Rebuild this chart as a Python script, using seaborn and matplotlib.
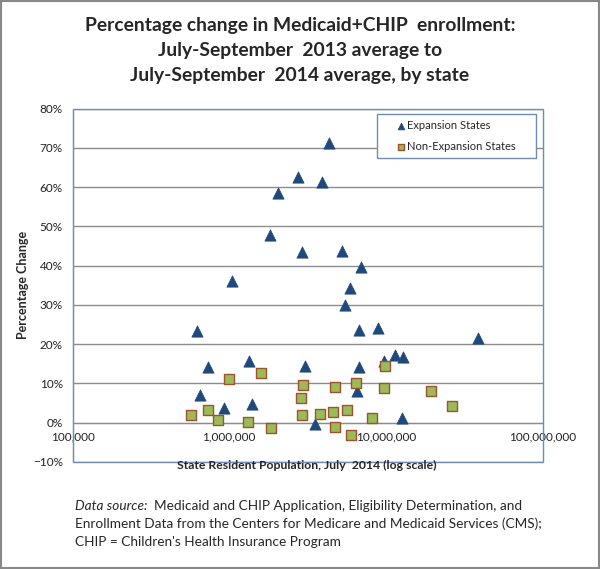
import matplotlib
matplotlib.use("Agg")
import matplotlib.pyplot as plt
import matplotlib.ticker as mticker
from matplotlib.patches import Rectangle
import numpy as np
import pandas as pd
import seaborn as sns

# ── Data ─────────────────────────────────────────────────────────────────────
exp_pop = [4.35e6, 2.76e6, 3.94e6, 2.05e6, 1.81e6, 2.93e6, 1.04e6, 0.622e6,
           0.731e6, 1.33e6, 3.06e6, 0.653e6, 0.922e6, 1.39e6, 3.53e6, 5.26e6,
           6.97e6, 5.89e6, 5.45e6, 6.70e6, 8.85e6, 39.0e6, 6.70e6, 11.5e6,
           12.9e6, 9.77e6, 6.53e6, 12.7e6]
exp_pct = [71.1, 62.5, 61.4, 58.4, 47.9, 43.4, 36.0, 23.3,
           14.1, 15.7, 14.4, 7.0, 3.8, 4.8, -0.2, 43.7,
           39.6, 34.3, 30.0, 23.7, 24.1, 21.5, 14.1, 17.3,
           16.7, 15.6, 8.2, 1.2]

non_pop = [1.00e6, 1.60e6, 2.94e6, 4.74e6, 2.86e6, 0.573e6, 0.728e6, 0.844e6,
           1.32e6, 1.84e6, 2.90e6, 3.79e6, 4.60e6, 4.72e6, 5.64e6, 5.98e6,
           6.44e6, 9.89e6, 9.75e6, 19.5e6, 26.4e6, 8.15e6]
non_pct = [11.2, 12.6, 9.5, 9.1, 6.4, 2.0, 3.3, 0.8,
           0.2, -1.4, 2.0, 2.3, 2.7, -1.1, 3.3, -3.1,
           10.1, 14.4, 8.9, 8.2, 4.2, 1.2]

x_ticks = [1e5, 1e6, 1e7, 1e8]
y_ticks = [-10, 0, 10, 20, 30, 40, 50, 60, 70, 80]

title_lines = [
    "Percentage change in Medicaid+CHIP  enrollment:",
    "July-September  2013 average to",
    "July-September  2014 average, by state",
]
source_lines = [
    "Enrollment Data from the Centers for Medicare and Medicaid Services (CMS);",
    "CHIP = Children's Health Insurance Program",
]

# ── Style ─────────────────────────────────────────────────────────────────────
sns.set_style("white")
plt.rcParams["font.family"] = ["Lato", "DejaVu Sans"]

NAVY = "#1F497D"
GREEN = "#9BBB59"
BROWN = "#A0522D"
BOX = "#6E8DB5"
GRID = "#8C8C8C"

df_exp = pd.DataFrame({"population": exp_pop, "pct": np.array(exp_pct) / 100})
df_non = pd.DataFrame({"population": non_pop, "pct": np.array(non_pct) / 100})

fig = plt.figure(figsize=(6, 5.69), dpi=100)
ax = fig.add_axes([72.5 / 600, 1 - 462 / 569, 470 / 600, 353.5 / 569])

sns.scatterplot(data=df_exp, x="population", y="pct", marker="^", s=66,
                color=NAVY, edgecolor=NAVY, linewidth=0.5,
                label="Expansion States", ax=ax, zorder=3)
sns.scatterplot(data=df_non, x="population", y="pct", marker="s", s=50,
                color=GREEN, edgecolor=BROWN, linewidth=1.0,
                label="Non-Expansion States", ax=ax, zorder=4)

ax.set_xscale("log")
ax.set_xlim(x_ticks[0], x_ticks[-1])
ax.set_ylim(y_ticks[0] / 100, y_ticks[-1] / 100)
ax.set_xticks(x_ticks)
ax.xaxis.set_minor_locator(mticker.NullLocator())
ax.xaxis.set_major_formatter(mticker.FuncFormatter(lambda v, _: f"{v:,.0f}"))
ax.set_yticks(np.array(y_ticks) / 100)
ax.yaxis.set_major_formatter(mticker.PercentFormatter(1.0, decimals=0))
ax.set_xlabel("")
ax.set_ylabel("")

ax.yaxis.grid(True, color=GRID, linewidth=1.0)
ax.set_axisbelow(True)

for side in ["top", "right"]:
    ax.spines[side].set_visible(False)
ax.spines["left"].set_color(BOX)
ax.spines["bottom"].set_position(("data", 0))
ax.spines["bottom"].set_color(GRID)
ax.add_patch(Rectangle((0, 0), 1, 1, transform=ax.transAxes, fill=False,
                       edgecolor=BOX, linewidth=1.0, zorder=5, clip_on=False))

ax.tick_params(axis="x", direction="out", length=4, color=GRID,
               labelsize=8.5, pad=2, labelcolor="#222222")
ax.tick_params(axis="y", direction="out", length=4, color=GRID,
               labelsize=8.5, pad=3, labelcolor="#222222")

# legend frame spans the same box as in the reference
leg = ax.legend(loc="upper left", bbox_to_anchor=(0.647, 0.5, 0.339, 0.4836),
                mode="expand", fontsize=8, frameon=True, fancybox=False,
                edgecolor=BOX, framealpha=1, markerscale=0.6,
                handlelength=3.3, handletextpad=-1.1, borderpad=0.55,
                labelspacing=0.85, borderaxespad=0)
leg.get_frame().set_linewidth(1.0)

# ── Text ──────────────────────────────────────────────────────────────────────
for i, line in enumerate(title_lines):
    fig.text(0.5, 1 - (25 + 25.5 * i) / 569, line, ha="center", va="center",
             fontsize=13.9, fontweight="bold")

fig.text(23 / 600, 1 - 285 / 569, "Percentage Change", rotation=90,
         ha="center", va="center", fontsize=9, fontweight="bold")
fig.text(307 / 600, 1 - 465 / 569,
         "State Resident Population, July  2014 (log scale)",
         ha="center", va="center", fontsize=8.8, fontweight="bold")

src = fig.text(75 / 600, 1 - 506 / 569, "Data source:", ha="left",
               va="center", fontsize=9.8, fontstyle="italic")
ax.annotate("  Medicaid and CHIP Application, Eligibility Determination, and",
            xy=(1, 0.5), xycoords=src, ha="left", va="center", fontsize=9.8,
            annotation_clip=False)
for i, line in enumerate(source_lines):
    fig.text(75 / 600, 1 - (524 + 18 * i) / 569, line,
             ha="left", va="center", fontsize=9.8)

fig.patches.append(Rectangle((0.0015, 0.0015), 0.997, 0.997,
                             transform=fig.transFigure, fill=False,
                             edgecolor="#888888", linewidth=1.5))

fig.savefig("out.png", dpi=100)
